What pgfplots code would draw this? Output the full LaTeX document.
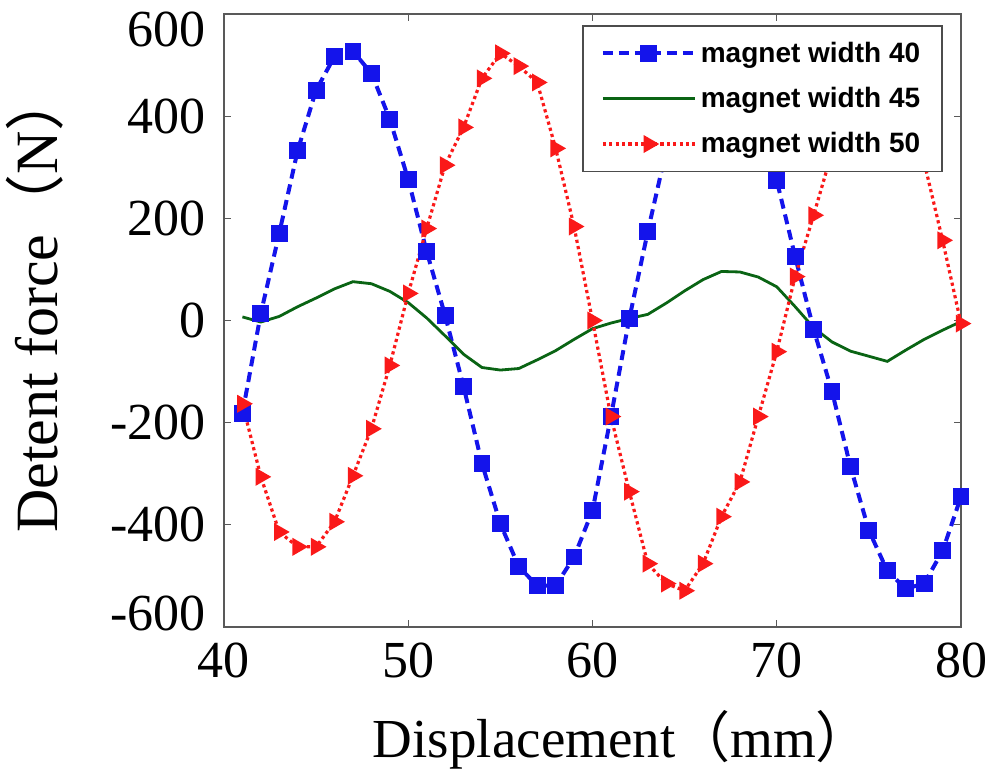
\documentclass[border=0pt]{standalone}
\usepackage{fontspec}
\setmainfont{Liberation Serif}
\newfontfamily\legfont{Liberation Sans}
\newfontfamily\cjk{Noto Sans CJK SC}
\usepackage{pgfplots}
\pgfplotsset{compat=1.18}
\definecolor{mblue}{RGB}{20,20,235}
\definecolor{mgreen}{RGB}{10,100,20}
\definecolor{mred}{RGB}{250,25,25}

\pgfplotstableread{
x   w40   w45   w50
41  -182  7     -163
42  14    -3    -306
43  171   8     -414
44  333   27    -443
45  451   44    -443
46  517   62    -394
47  527   76    -304
48  484   72    -212
49  394   57    -88
50  276   35    53
51  135   5     180
52  10    -30   304
53  -129  -66   378
54  -280  -92   474
55  -398  -97   523
56  -482  -94   498
57  -519  -77   466
58  -519  -59   337
59  -463  -37   184
60  -372  -16   0
61  -188  -5    -188
62  4     4     -335
63  174   12    -476
64  333   34    -515
65  451   58    -529
66  517   80    -476
67  527   96    -384
68  484   95    -316
69  394   85    -188
70  274   66    -61
71  125   27    86
72  -17   -14   206
73  -139  -42   330
74  -286  -60   440
75  -411  -70   510
76  -490  -80   525
77  -525  -58   450
78  -515  -37   310
79  -451  -19   157
80  -345  -2    -6
}\detent

\begin{document}
\begin{tikzpicture}
\begin{axis}[
  scale only axis,
  width=368.5pt, height=306.5pt,
  xmin=40, xmax=80, ymin=-600, ymax=600,
  xtick={40,50,60,70,80},
  ytick={-600,-400,-200,0,200,400,600},
  yticklabels={\raisebox{7pt}[17pt][0pt]{-600},-400,-200,0,200,400,\raisebox{-8pt}[17pt][0pt]{600}},
  tick align=inside,
  major tick length=3.5pt,
  tick style={gray!70!black, line width=0.6pt},
  axis line style={gray!70!black, line width=0.9pt},
  /pgf/number format/assume math mode=true,
  ticklabel style={font=\fontsize{26}{26}\selectfont},
  yticklabel style={inner sep=0pt, xshift=-9pt},
  xticklabel style={inner sep=0pt, yshift=-8pt},
  xlabel={Displacement{\cjk （}mm{\cjk ）}},
  ylabel={Detent force{\cjk （}N{\cjk ）}},
  xlabel style={font=\fontsize{27.5}{27.5}\selectfont,
    at={(axis description cs:0.54,-0.1843)}, anchor=center},
  ylabel style={font=\fontsize{30}{30}\selectfont,
    at={(axis description cs:-0.2564,0.53)}, anchor=center},
  legend cell align=left,
  legend style={at={(1,1)}, anchor=north east, xshift=-9pt, yshift=-5.5pt,
    font=\legfont\bfseries\fontsize{14}{14}\selectfont,
    draw=gray!60!black, line width=0.8pt,
    row sep=7pt, inner xsep=9pt, inner ysep=6pt},
  legend image code/.code={
    \draw[mark repeat=2, mark phase=2, #1]
      plot coordinates {(0pt,0pt) (23pt,0pt) (46pt,0pt)};},
]
\addplot[mblue, line width=2pt, dash pattern=on 5pt off 3pt,
  mark=square*, mark size=3.2pt, mark options={solid}]
  table[x=x, y=w40] {\detent};
\addlegendentry{magnet width 40}
\addplot[mgreen, line width=1.4pt]
  table[x=x, y=w45] {\detent};
\addlegendentry{magnet width 45}
\addplot[mred, line width=1.6pt, dash pattern=on 1.6pt off 1.6pt,
  mark=triangle*, mark size=3.6pt, mark options={solid, rotate=-90}]
  table[x=x, y=w50] {\detent};
\addlegendentry{magnet width 50}
\end{axis}
\pgfresetboundingbox
\path[use as bounding box] ([shift={(-112pt,-77.5pt)}]current axis.south west)
  rectangle ([shift={(14pt,7pt)}]current axis.north east);
\end{tikzpicture}
\end{document}
